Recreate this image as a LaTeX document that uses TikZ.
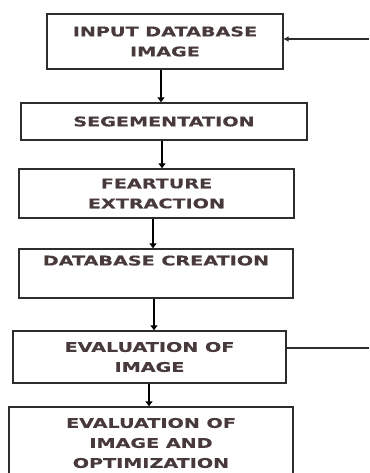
\documentclass[tikz,border=0pt]{standalone}
\usepackage{fontspec}
\newfontfamily\boxfont{DejaVu Sans Bold}[FakeStretch=1.44,FakeBold=0.3]
\usetikzlibrary{arrows.meta}
\definecolor{txt}{RGB}{72,58,58}
\definecolor{edge}{RGB}{45,45,45}
\tikzset{
  stepbox/.style={draw=edge,line width=1.4pt,rectangle,inner sep=0pt,align=center,
    text=txt,font=\boxfont\fontsize{13.3}{20}\selectfont},
  arr/.style={draw=black,line width=1.5pt,-{Triangle[length=5pt,width=7pt]}},
  feed/.style={draw=edge,line width=1.1pt}
}
\begin{document}
\begin{tikzpicture}[x=1pt,y=-1pt]
\useasboundingbox (0,0) rectangle (369,473);
\node[stepbox,minimum width=236pt,minimum height=55pt] (b1) at (165,41.5) {INPUT DATABASE\\IMAGE};
\node[stepbox,minimum width=286pt,minimum height=37pt] (b2) at (164,121.5) {SEGEMENTATION};
\node[stepbox,minimum width=275pt,minimum height=49pt] (b3) at (156.5,193.5) {FEARTURE\\EXTRACTION};
\node[stepbox,minimum width=274pt,minimum height=49pt] (b4) at (156,273.5) {DATABASE CREATION\\\strut};
\node[stepbox,minimum width=273pt,minimum height=52pt] (b5) at (149.5,357) {EVALUATION OF\\IMAGE};
\node[stepbox,minimum width=284pt,minimum height=72pt] (b6) at (151,443) {EVALUATION OF\\IMAGE AND\\OPTIMIZATION};
\coordinate (in1) at (369,39);
\coordinate (out5) at (369,348);
\draw[arr] (b1.south -| 161,0) -- (b2.north -| 161,0);
\draw[arr] (b2.south -| 162,0) -- (b3.north -| 162,0);
\draw[arr] (b3.south -| 153,0) -- (b4.north -| 153,0);
\draw[arr] (b4.south -| 154,0) -- (b5.north -| 154,0);
\draw[arr] (b5.south -| 149,0) -- (b6.north -| 149,0);
\draw[feed,-{Triangle[length=5pt,width=5pt]}] (in1) -- (in1 -| b1.east);
\draw[feed] (out5 -| b5.east) -- (out5);
\end{tikzpicture}
\end{document}
